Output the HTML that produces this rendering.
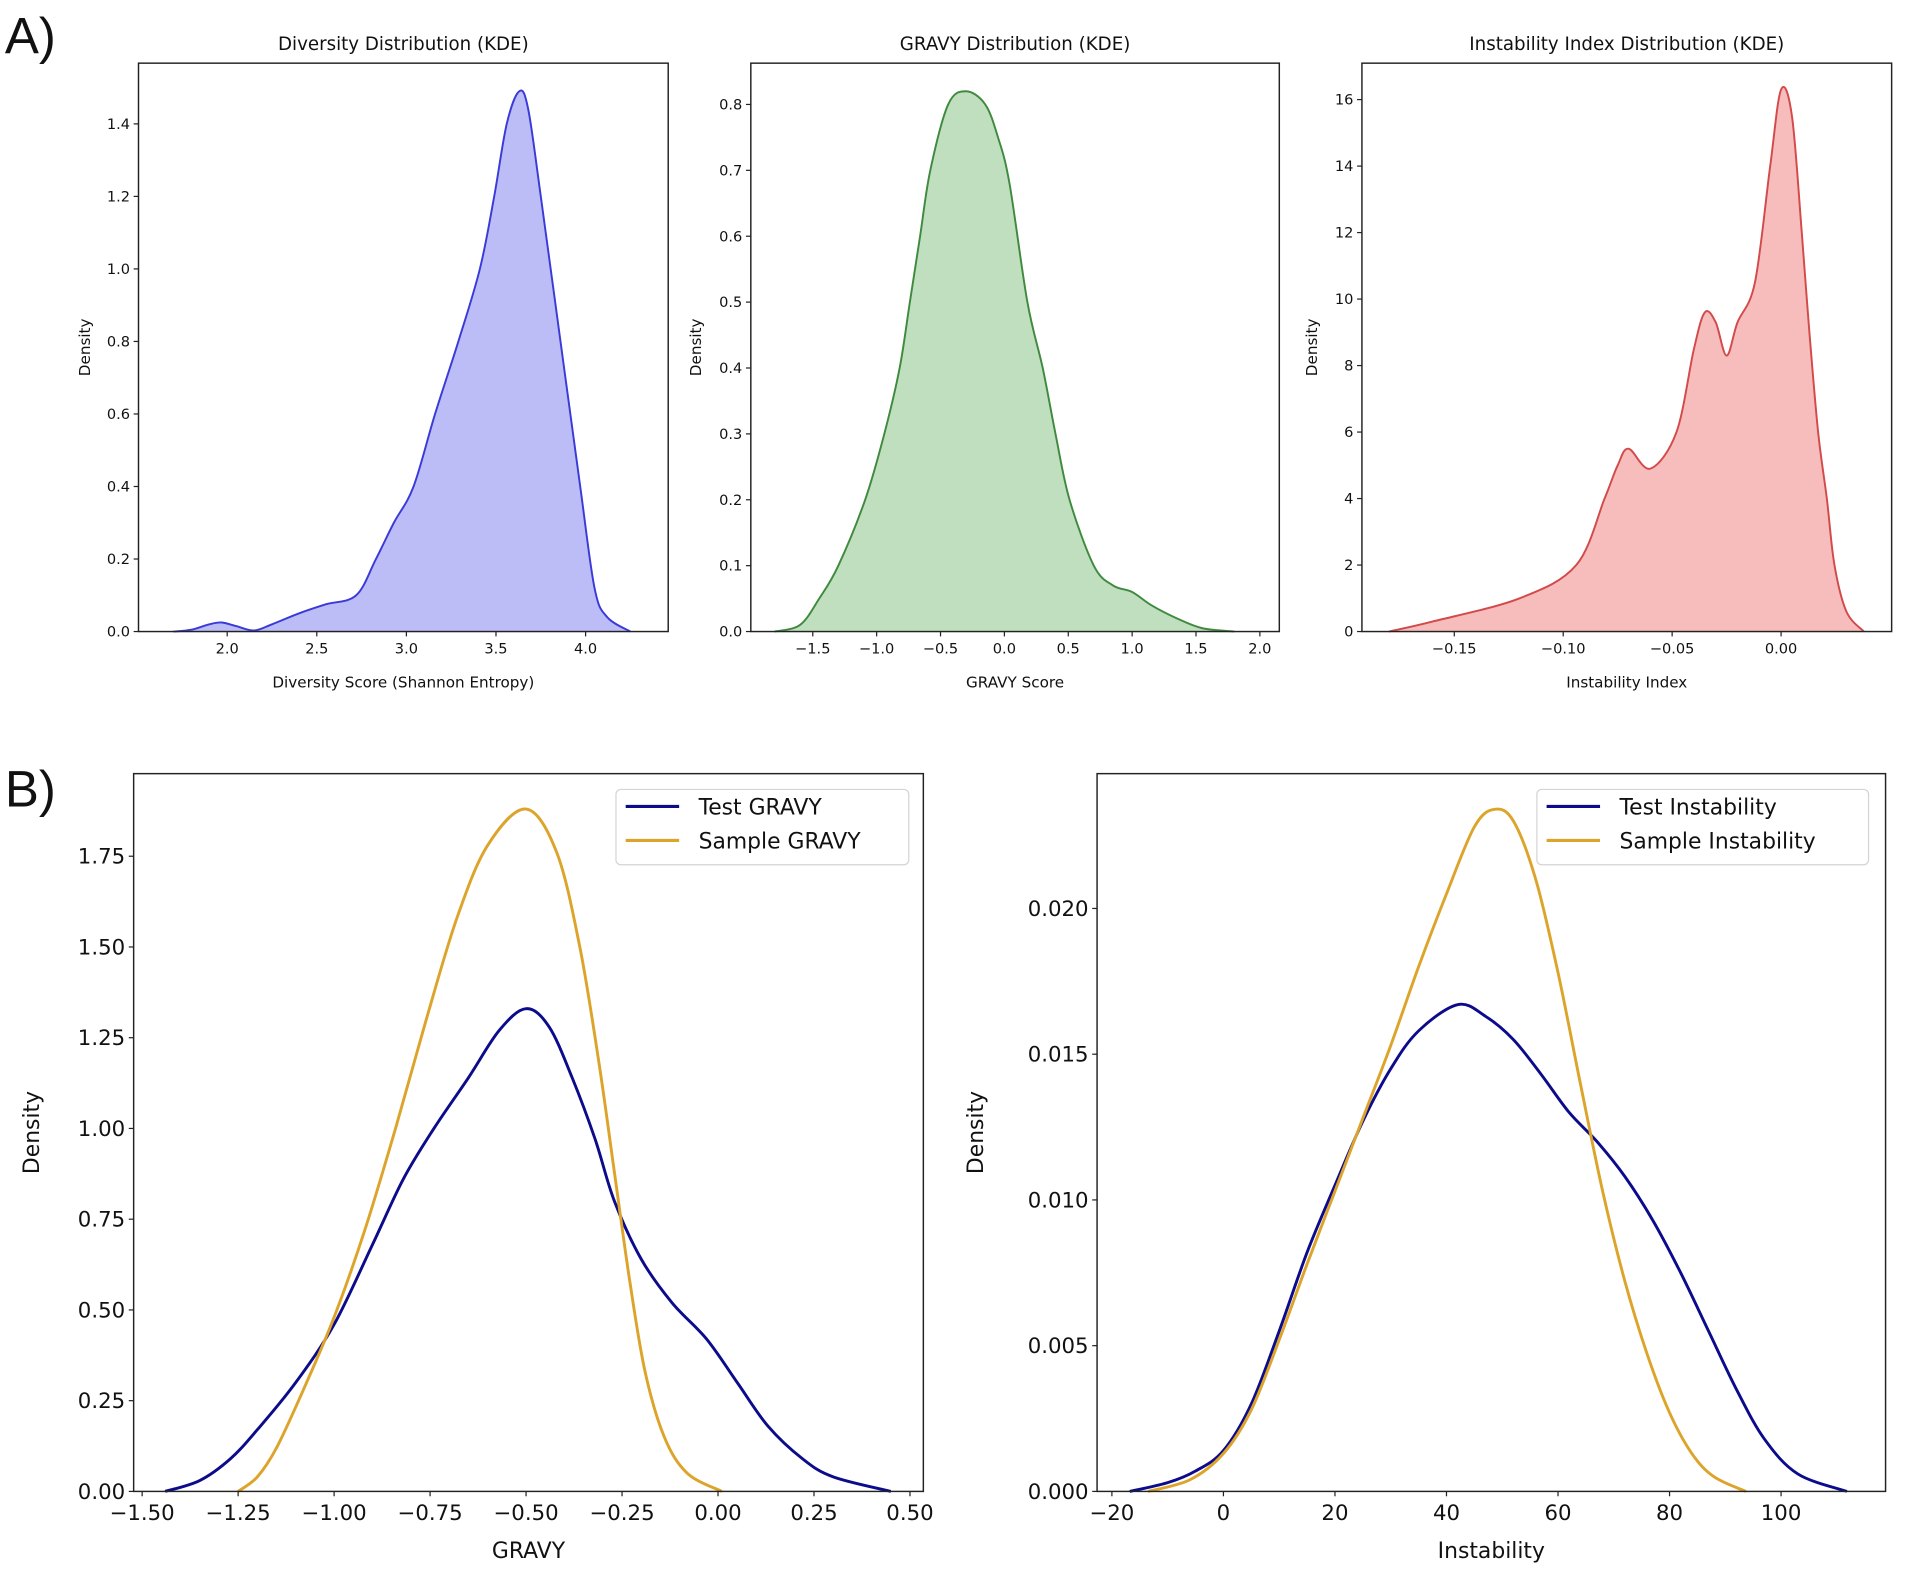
<!DOCTYPE html>
<html><head><meta charset="utf-8"><style>
html,body{margin:0;padding:0;background:#fff;}
svg{display:block;}
text{font-family:"DejaVu Sans","Liberation Sans",sans-serif;fill:#111;}
</style></head><body>
<svg id="fig" width="1905" height="1574" viewBox="0 0 1568 1296" preserveAspectRatio="none" xmlns="http://www.w3.org/2000/svg">
<text x="4" y="44" font-size="42" style="font-family:'Liberation Sans',sans-serif">A)</text>
<text x="4" y="664" font-size="42" style="font-family:'Liberation Sans',sans-serif">B)</text>
</svg>
<script>
// ---- Data ----
const divX=[1.7,1.8,1.9,1.97,2.05,2.15,2.25,2.4,2.55,2.72,2.83,2.93,3.04,3.16,3.29,3.41,3.49,3.56,3.63,3.68,3.75,3.86,3.97,4.05,4.12,4.25];
const divY=[0,0.005,0.02,0.025,0.015,0.003,0.02,0.05,0.075,0.1,0.2,0.3,0.4,0.6,0.8,1.0,1.2,1.4,1.49,1.44,1.2,0.8,0.4,0.12,0.04,0];
const gravX=[-1.8,-1.6,-1.45,-1.3,-1.09,-0.94,-0.82,-0.74,-0.66,-0.58,-0.44,-0.3,-0.15,-0.05,0.04,0.18,0.3,0.4,0.51,0.7,0.85,1.0,1.15,1.35,1.55,1.8];
const gravY=[0,0.01,0.05,0.1,0.2,0.3,0.4,0.5,0.6,0.7,0.8,0.82,0.8,0.75,0.68,0.5,0.4,0.3,0.2,0.1,0.07,0.06,0.04,0.02,0.005,0];
const instX=[-0.18,-0.16,-0.12,-0.094,-0.081,-0.075,-0.07,-0.06,-0.048,-0.04,-0.035,-0.03,-0.025,-0.02,-0.012,-0.005,0,0.005,0.0095,0.013,0.017,0.021,0.0245,0.03,0.038];
const instY=[0,0.3,1,2,4,5,5.5,4.9,6,8.5,9.6,9.3,8.3,9.3,10.5,14,16.3,15.5,12,9,6,4,2,0.6,0];
const bgTestX=[-1.44,-1.35,-1.27,-1.2,-1.1,-1.0,-0.9,-0.82,-0.74,-0.65,-0.57,-0.5,-0.44,-0.38,-0.32,-0.27,-0.2,-0.12,-0.03,0.05,0.13,0.22,0.3,0.45];
const bgTestY=[0,0.03,0.09,0.17,0.3,0.46,0.68,0.86,1.0,1.14,1.27,1.33,1.28,1.14,0.97,0.8,0.64,0.52,0.42,0.3,0.18,0.09,0.04,0];
const bgSampX=[-1.25,-1.2,-1.15,-1.08,-1.0,-0.92,-0.84,-0.76,-0.68,-0.6,-0.5,-0.42,-0.36,-0.31,-0.27,-0.23,-0.19,-0.14,-0.08,0.01];
const bgSampY=[0,0.04,0.12,0.28,0.48,0.72,1.0,1.3,1.58,1.78,1.88,1.76,1.5,1.18,0.88,0.58,0.33,0.15,0.05,0];
const biTestX=[-16.8,-10,-5,0,5,10,15,20,25,30,35,42,47,52,57,62,67,72,77,82,87,92,97,103,111.8];
const biTestY=[0,0.0003,0.0007,0.0014,0.003,0.0055,0.0082,0.0105,0.0127,0.0145,0.0158,0.0167,0.0163,0.0155,0.0143,0.013,0.012,0.0108,0.0093,0.0075,0.0055,0.0035,0.0018,0.0006,0];
const biSampX=[-13.5,-6,0,5,10,15,20,25,30,35,40,45,48.6,52,56,60,64,68,72,76,80,84,88,93.7];
const biSampY=[0,0.0004,0.0013,0.0028,0.0052,0.0078,0.0103,0.0128,0.0153,0.018,0.0205,0.0228,0.0234,0.023,0.021,0.0178,0.014,0.0103,0.0072,0.0047,0.0027,0.0013,0.0005,0];
const a1Ticks=[2.0,2.5,3.0,3.5,4.0], a1YT=[0,0.2,0.4,0.6,0.8,1.0,1.2,1.4];
const a2Ticks=[-1.5,-1.0,-0.5,0.0,0.5,1.0,1.5,2.0], a2YT=[0,0.1,0.2,0.3,0.4,0.5,0.6,0.7,0.8];
const a3Ticks=[-0.15,-0.10,-0.05,0.00], a3YT=[0,2,4,6,8,10,12,14,16];
const b1Ticks=[-1.5,-1.25,-1.0,-0.75,-0.5,-0.25,0,0.25,0.5], b1YT=[0,0.25,0.5,0.75,1.0,1.25,1.5,1.75];
const b2Ticks=[-20,0,20,40,60,80,100], b2YT=[0,0.005,0.010,0.015,0.020];

const NS="http://www.w3.org/2000/svg";
const svg=document.getElementById('fig');
function mk(tag,attrs,parent){const e=document.createElementNS(NS,tag);for(const k in attrs)e.setAttribute(k,attrs[k]);(parent||svg).appendChild(e);return e;}
function lin(d0,d1,r0,r1){return v=>r0+(v-d0)*(r1-r0)/(d1-d0);}
function smooth(pts){let d='M'+pts[0][0]+','+pts[0][1];for(let i=0;i<pts.length-1;i++){const p0=pts[i-1]||pts[i],p1=pts[i],p2=pts[i+1],p3=pts[i+2]||p2;const c1x=p1[0]+(p2[0]-p0[0])/6,c1y=p1[1]+(p2[1]-p0[1])/6,c2x=p2[0]-(p3[0]-p1[0])/6,c2y=p2[1]-(p3[1]-p1[1])/6;d+=` C${c1x},${c1y} ${c2x},${c2y} ${p2[0]},${p2[1]}`;}return d;}

function axes(o){
  const g=mk('g',{});
  
  
  const fs=o.fs;
  o.yt.forEach(v=>{const y=o.ys(v);
    mk('line',{x1:o.l-4,x2:o.l,y1:y,y2:y,stroke:'#222','stroke-width':1},g);
    const tx=mk('text',{x:o.l-7,y:y+fs*0.35,'font-size':fs,'text-anchor':'end'},g);tx.textContent=o.yfmt(v);
    
    });
  o.xt.forEach(v=>{const x=o.xs(v);
    mk('line',{x1:x,x2:x,y1:o.b,y2:o.b+4,stroke:'#222','stroke-width':1},g);
    const tx=mk('text',{x:x,y:o.b+6+fs,'font-size':fs,'text-anchor':'middle'},g);tx.textContent=o.xfmt(v);
    
    });
  return g;
}
function frame(g,o){mk('rect',{x:o.l,y:o.t,width:o.r-o.l,height:o.b-o.t,fill:'none',stroke:'#222','stroke-width':1.2},g);}
function lbls(g,o,title,xl){
  if(title){const t=mk('text',{x:(o.l+o.r)/2,y:o.t-11,'font-size':o.tfs,'text-anchor':'middle'},g);t.textContent=title;
    
    }
  const x=mk('text',{x:(o.l+o.r)/2,y:o.xly,'font-size':o.lfs,'text-anchor':'middle'},g);x.textContent=xl;
  
  
  const y=mk('text',{x:0,y:0,'font-size':o.lfs,'text-anchor':'middle',transform:`translate(${o.ylx},${(o.t+o.b)/2}) rotate(-90)`},g);y.textContent='Density';
  
  
}
function fmt(n){return v=>(v<0?'\u2212':'')+Math.abs(v).toFixed(n);}

function kdePanel(o,X,Y,fill,strokeC,name){
  const g=axes(o);
  const pts=X.map((x,i)=>[o.xs(x),o.ys(Y[i])]);
  const d=smooth(pts);
  const f=mk('path',{d:d+` L${pts[pts.length-1][0]},${o.b} L${pts[0][0]},${o.b} Z`,fill:fill,stroke:'none'},g);
  
  
  const l=mk('path',{d:d,fill:'none',stroke:strokeC,'stroke-width':1.6},g);
  
  
  frame(g,o);return g;
}
const base={t:52,b:520,fs:12,tfs:15,lfs:12.5,xly:566};
let o1=Object.assign({},base,{name:'diversity-chart',l:114,r:550,xs:lin(2,4,187,482),ys:lin(0,1.4,520,102),xt:a1Ticks,yt:a1YT,xfmt:fmt(1),yfmt:fmt(1),ylx:74});
let g1=kdePanel(o1,divX,divY,'#bcbcf6','#3a3ad8','diversity-kde');lbls(g1,o1,'Diversity Distribution (KDE)','Diversity Score (Shannon Entropy)');
let o2=Object.assign({},base,{name:'gravy-chart',l:618,r:1053,xs:lin(-1.5,2,669,1037),ys:lin(0,0.8,520,86),xt:a2Ticks,yt:a2YT,xfmt:fmt(1),yfmt:fmt(1),ylx:577});
let g2=kdePanel(o2,gravX,gravY,'#bfdfbf','#3f8a3f','gravy-kde');lbls(g2,o2,'GRAVY Distribution (KDE)','GRAVY Score');
let o3=Object.assign({},base,{name:'instability-chart',l:1121,r:1557,xs:lin(-0.15,0,1197,1466),ys:lin(0,16,520,82),xt:a3Ticks,yt:a3YT,xfmt:fmt(2),yfmt:v=>String(v),ylx:1084});
let g3=kdePanel(o3,instX,instY,'#f7bcbc','#d24a4a','instability-kde');lbls(g3,o3,'Instability Index Distribution (KDE)','Instability Index');

function cmpPanel(o,series,legend){
  const g=axes(o);
  series.forEach(s=>{const pts=s.X.map((x,i)=>[o.xs(x),o.ys(s.Y[i])]);
    const p=mk('path',{d:smooth(pts),fill:'none',stroke:s.c,'stroke-width':2.4},g);
    
    });
  frame(g,o);
  const lg=mk('g',{},g);
  
  
  mk('rect',{x:legend.x,y:650,width:legend.w,height:62,rx:4,fill:'#fff','fill-opacity':0.85,stroke:'#d4d4d4','stroke-width':1},lg);
  series.forEach((s,i)=>{const y=664+i*28;
    mk('line',{x1:legend.x+8,x2:legend.x+52,y1:y,y2:y,stroke:s.c,'stroke-width':2.6},lg);
    const t=mk('text',{x:legend.x+68,y:y+6.5,'font-size':18},lg);t.textContent=s.label;
    
    });
  return g;
}
const bb={t:637,b:1228,fs:17.5,lfs:18,xly:1283};
let o4=Object.assign({},bb,{name:'gravy-comparison-chart',l:110,r:760,xs:lin(-1.5,0.5,117,749),ys:lin(0,1.75,1228,705),xt:b1Ticks,yt:b1YT,xfmt:fmt(2),yfmt:fmt(2),ylx:32});
let g4=cmpPanel(o4,[{X:bgTestX,Y:bgTestY,c:'#0b0b8c',label:'Test GRAVY',name:'test-gravy-line'},{X:bgSampX,Y:bgSampY,c:'#dca42a',label:'Sample GRAVY',name:'sample-gravy-line'}],{x:507,w:241});
lbls(g4,o4,null,'GRAVY');
let o5=Object.assign({},bb,{name:'instability-comparison-chart',l:903,r:1552,xs:lin(0,100,1007,1466),ys:lin(0,0.02,1228,748),xt:b2Ticks,yt:b2YT,xfmt:v=>(v<0?'\u2212':'')+Math.abs(v),yfmt:fmt(3),ylx:809});
let g5=cmpPanel(o5,[{X:biTestX,Y:biTestY,c:'#0b0b8c',label:'Test Instability',name:'test-instability-line'},{X:biSampX,Y:biSampY,c:'#dca42a',label:'Sample Instability',name:'sample-instability-line'}],{x:1265,w:273});
lbls(g5,o5,null,'Instability');
</script>
</body></html>
